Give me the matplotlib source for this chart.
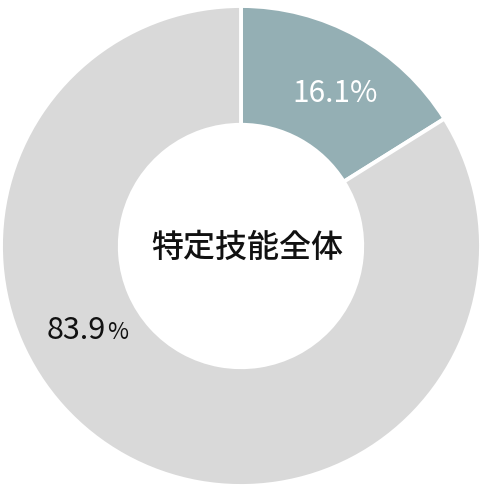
import matplotlib
matplotlib.use("Agg")
import matplotlib.pyplot as plt

plt.rcParams['font.family'] = ['Noto Sans CJK JP', 'DejaVu Sans']

# データ
labels = ['該当', 'その他']
shares = [16.1, 83.9]
colors = ['#94afb4', '#d9d9d9']
center_title = '特定技能全体'

W, H = 483, 488
CX, CY, R = 241, 246, 240  # 円の中心と半径 (px)


def px(x, y):
    """ピクセル座標 -> データ座標"""
    return (x - CX) / R, (CY - y) / R


fig = plt.figure(figsize=(W / 100, H / 100), dpi=100)
ax = fig.add_axes([0, 0, 1, 1])
ax.pie(shares, colors=colors, startangle=90, counterclock=False, radius=1,
       wedgeprops=dict(width=0.495, edgecolor='white', linewidth=2.8))
ax.set_xlim(-CX / R, (W - CX) / R)
ax.set_ylim(-(H - CY) / R, CY / R)
ax.set_aspect('equal')
ax.axis('off')

# ラベル
x, y = px(335, 93)
ax.text(x, y, f'{shares[0]:.1f}%', color='white', fontsize=21.5,
        ha='center', va='center')

x, y = px(106, 339)
ax.text(x, y, f'{shares[1]:.1f}', color='#111111', fontsize=22,
        ha='right', va='baseline')
x, y = px(107, 339)
ax.text(x, y, '%', color='#111111', fontsize=16.5, ha='left', va='baseline')

x, y = px(247, 248)
ax.text(x, y, center_title, color='#111111', fontsize=23,
        fontweight='medium', ha='center', va='center')

fig.savefig('out.png', dpi=100, facecolor='white')
